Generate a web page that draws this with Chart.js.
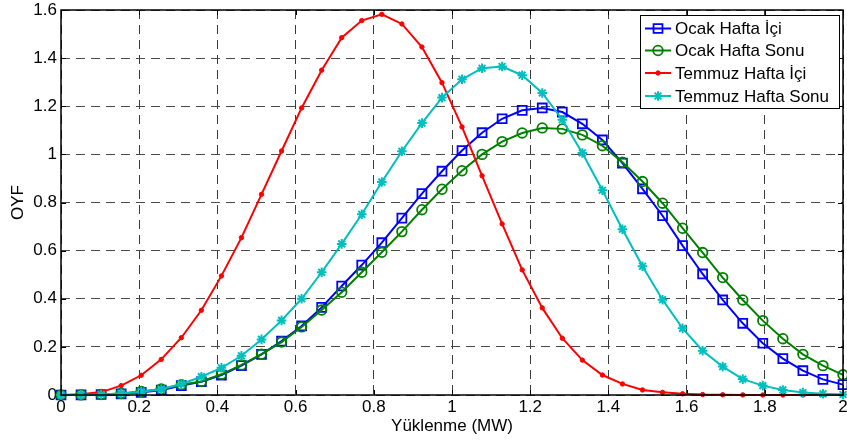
<!DOCTYPE html>
<html>
<head>
<meta charset="utf-8">
<script src="https://cdn.jsdelivr.net/npm/chart.js@4/dist/chart.umd.min.js"></script>
<style>
  html, body { margin: 0; padding: 0; background: #fff; }
  #c { display: block; }
</style>
</head>
<body>
<canvas id="c" width="847" height="441"></canvas>
<script>
// Load levels (MW) at which the probability density is evaluated
const loadMW = [
  0, 0.0513, 0.1026, 0.1538, 0.2051, 0.2564, 0.3077, 0.3590, 0.4103, 0.4615,
  0.5128, 0.5641, 0.6154, 0.6667, 0.7179, 0.7692, 0.8205, 0.8718, 0.9231, 0.9744,
  1.0256, 1.0769, 1.1282, 1.1795, 1.2308, 1.2821, 1.3333, 1.3846, 1.4359, 1.4872,
  1.5385, 1.5897, 1.6410, 1.6923, 1.7436, 1.7949, 1.8462, 1.8974, 1.9487, 2.0
];

const ocakHaftaIci = [
  0, 0.0005, 0.002, 0.005, 0.011, 0.020, 0.039, 0.055, 0.083, 0.122,
  0.169, 0.224, 0.287, 0.364, 0.453, 0.540, 0.633, 0.735, 0.837, 0.930,
  1.016, 1.090, 1.148, 1.183, 1.193, 1.176, 1.127, 1.060, 0.964, 0.857,
  0.745, 0.621, 0.503, 0.395, 0.298, 0.215, 0.151, 0.101, 0.065, 0.043
];

const ocakHaftaSonu = [
  0, 0.0005, 0.002, 0.006, 0.015, 0.025, 0.043, 0.056, 0.086, 0.125,
  0.170, 0.220, 0.283, 0.353, 0.427, 0.510, 0.593, 0.679, 0.770, 0.855,
  0.932, 1.000, 1.053, 1.089, 1.110, 1.106, 1.081, 1.036, 0.967, 0.887,
  0.797, 0.693, 0.592, 0.488, 0.395, 0.309, 0.234, 0.169, 0.122, 0.084
];

const temmuzHaftaIci = [
  0, 0.003, 0.012, 0.039, 0.082, 0.148, 0.238, 0.352, 0.495, 0.654,
  0.834, 1.014, 1.193, 1.350, 1.485, 1.556, 1.582, 1.542, 1.446, 1.298,
  1.114, 0.911, 0.711, 0.520, 0.362, 0.236, 0.145, 0.083, 0.046, 0.021,
  0.011, 0.005, 0.002, 0.001, 0.0005, 0, 0, 0, 0, 0
];

const temmuzHaftaSonu = [
  0, 0.0005, 0.002, 0.006, 0.014, 0.024, 0.046, 0.076, 0.113, 0.163,
  0.231, 0.310, 0.400, 0.510, 0.628, 0.751, 0.885, 1.013, 1.130, 1.236,
  1.312, 1.358, 1.365, 1.329, 1.255, 1.144, 1.006, 0.851, 0.689, 0.535,
  0.396, 0.277, 0.184, 0.118, 0.066, 0.039, 0.021, 0.010, 0.005, 0.002
];

const seriesNames = ['Ocak Hafta İçi', 'Ocak Hafta Sonu', 'Temmuz Hafta İçi', 'Temmuz Hafta Sonu'];
const xTicks = [0, 0.2, 0.4, 0.6, 0.8, 1, 1.2, 1.4, 1.6, 1.8, 2];
const yTicks = [0, 0.2, 0.4, 0.6, 0.8, 1, 1.2, 1.4, 1.6];

const FONT = 'Arial, "Liberation Sans", sans-serif';
const fmt = v => String(+v.toFixed(1));
const toPoints = ys => ys.map((y, i) => ({ x: loadMW[i], y }));

const styles = [
  { color: '#0000ff', pointStyle: 'rect',   radius: 6.3, fill: 'rgba(0,0,0,0)', pbw: 1.8, order: 3 },
  { color: '#008000', pointStyle: 'circle', radius: 4.8, fill: 'rgba(0,0,0,0)', pbw: 1.8, order: 2 },
  { color: '#ff0000', pointStyle: 'circle', radius: 2.2, fill: '#ff0000',       pbw: 1,   order: 1 },
  { color: '#00bfbf', pointStyle: 'star',   radius: 4.8, fill: '#00bfbf',       pbw: 2,   order: 0 }
];
const seriesData = [ocakHaftaIci, ocakHaftaSonu, temmuzHaftaIci, temmuzHaftaSonu];

const datasets = seriesData.map((d, k) => ({
  label: seriesNames[k],
  data: toPoints(d),
  borderColor: styles[k].color,
  backgroundColor: styles[k].color,
  borderWidth: 2,
  tension: 0,
  pointStyle: styles[k].pointStyle,
  pointRadius: styles[k].radius,
  pointHoverRadius: styles[k].radius,
  pointBorderColor: styles[k].color,
  pointBackgroundColor: styles[k].fill,
  pointBorderWidth: styles[k].pbw,
  order: styles[k].order,
  clip: false
}));

// Axes box with inward ticks on all four sides, plus the x tick labels
const boxPlugin = {
  id: 'axesBox',
  afterDatasetsDraw(chart) {
    const { ctx, chartArea: a, scales: { x, y } } = chart;
    ctx.save();
    ctx.strokeStyle = '#000';
    ctx.lineWidth = 1;
    const tl = 5;
    ctx.beginPath();
    xTicks.forEach(v => {
      const px = Math.round(x.getPixelForValue(v)) + 0.5;
      ctx.moveTo(px, a.bottom); ctx.lineTo(px, a.bottom - tl);
      ctx.moveTo(px, a.top); ctx.lineTo(px, a.top + tl);
    });
    yTicks.forEach(v => {
      const py = Math.round(y.getPixelForValue(v)) + 0.5;
      ctx.moveTo(a.left, py); ctx.lineTo(a.left + tl, py);
      ctx.moveTo(a.right, py); ctx.lineTo(a.right - tl, py);
    });
    ctx.stroke();
    ctx.lineWidth = 1.5;
    ctx.strokeRect(a.left, a.top, a.right - a.left, a.bottom - a.top);

    ctx.fillStyle = '#000';
    ctx.font = '17px ' + FONT;
    ctx.textAlign = 'center';
    ctx.textBaseline = 'top';
    xTicks.forEach(v => {
      ctx.fillText(fmt(v), x.getPixelForValue(v), a.bottom + 4);
    });
    ctx.restore();
  }
};

// Legend box in the upper right corner: line sample with marker, then label
const legendPlugin = {
  id: 'boxLegend',
  afterDraw(chart) {
    const { ctx } = chart;
    const bx = 640, by = 15, bw = 199, bh = 93;
    ctx.save();
    ctx.fillStyle = '#fff';
    ctx.fillRect(bx, by, bw, bh);
    ctx.strokeStyle = '#000';
    ctx.lineWidth = 1;
    ctx.strokeRect(bx + 0.5, by + 0.5, bw, bh);
    ctx.font = '17px ' + FONT;
    ctx.textBaseline = 'middle';
    ctx.textAlign = 'left';
    const rowY = [28.5, 50.5, 73, 96];
    seriesNames.forEach((name, k) => {
      const s = styles[k];
      const cy = rowY[k];
      ctx.strokeStyle = s.color;
      ctx.lineWidth = 2;
      ctx.beginPath();
      ctx.moveTo(645, cy); ctx.lineTo(671, cy);
      ctx.stroke();
      ctx.fillStyle = s.fill;
      ctx.strokeStyle = s.color;
      ctx.lineWidth = s.pbw;
      Chart.helpers.drawPoint(ctx, { pointStyle: s.pointStyle, radius: s.radius, rotation: 0, borderWidth: s.pbw }, 658, cy);
      ctx.fillStyle = '#000';
      ctx.fillText(name, 675, cy + 1);
    });
    ctx.restore();
  }
};

new Chart(document.getElementById('c'), {
  type: 'line',
  data: { datasets },
  options: {
    responsive: false,
    animation: false,
    devicePixelRatio: 1,
    layout: { autoPadding: false, padding: { top: 10, right: 4, left: 0, bottom: 0 } },
    plugins: { legend: { display: false }, tooltip: { enabled: false } },
    scales: {
      x: {
        type: 'linear',
        min: 0, max: 2,
        afterFit(scale) { scale.height = 46; },
        afterBuildTicks(scale) { scale.ticks = xTicks.map(v => ({ value: v })); },
        ticks: { display: false },
        grid: {
          drawTicks: false,
          color: '#3a3a3a',
          lineWidth: 1
        },
        border: { display: false, dash: [9, 6] },
        title: {
          display: true,
          text: 'Yüklenme (MW)',
          color: '#000',
          font: { family: FONT, size: 17 },
          padding: { top: 0, bottom: 4 }
        }
      },
      y: {
        type: 'linear',
        min: 0, max: 1.6,
        afterFit(scale) { scale.width = 61; scale.paddingTop = 0; scale.paddingBottom = 0; },
        afterBuildTicks(scale) { scale.ticks = yTicks.map(v => ({ value: v })); },
        ticks: {
          padding: 4,
          color: '#000',
          font: { family: FONT, size: 17 },
          callback: v => fmt(v)
        },
        grid: {
          drawTicks: false,
          color: '#4a4a4a',
          lineWidth: 1
        },
        border: { display: false, dash: [9, 6] },
        title: {
          display: true,
          text: 'OYF',
          color: '#000',
          font: { family: FONT, size: 17 },
          padding: { top: 8, bottom: 0 }
        }
      }
    }
  },
  plugins: [boxPlugin, legendPlugin]
});
</script>
</body>
</html>
